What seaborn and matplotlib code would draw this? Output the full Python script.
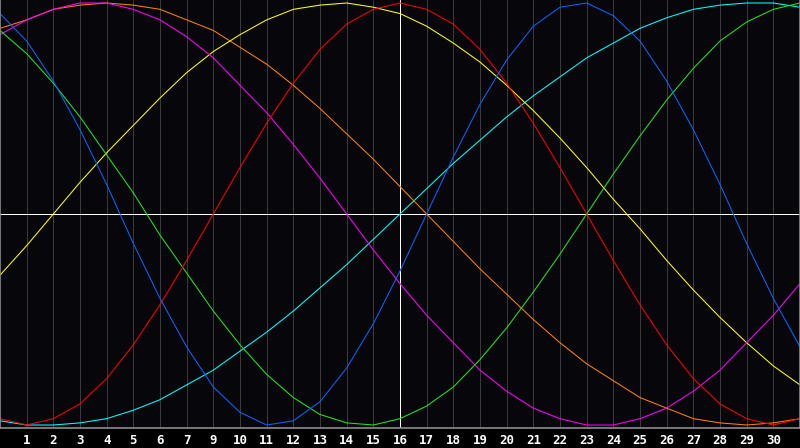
import numpy as np
import pandas as pd
import matplotlib
matplotlib.use("Agg")
import matplotlib.pyplot as plt
import seaborn as sns

# days along the x axis (grid cell boundaries)
days = list(range(31))

# tick labels (day 8 is missing in the original)
tick_pos = list(range(1, 30))
tick_labels = ['1', '2', '3', '4', '5', '6', '7', '9', '10', '11', '12', '13', '14', '15',
               '16', '17', '18', '19', '20', '21', '22', '23', '24', '25', '26', '27', '28',
               '29', '30']

# curve values (-1 .. 1)
physical = [0.95, 0.82, 0.63, 0.40, 0.14, -0.14, -0.40, -0.63, -0.82, -0.94, -1.00,
            -0.98, -0.89, -0.73, -0.52, -0.27, 0.00, 0.27, 0.52, 0.73, 0.89, 0.98,
            1.00, 0.94, 0.82, 0.63, 0.40, 0.14, -0.14, -0.40, -0.63]
emotional = [-0.97, -1.00, -0.97, -0.90, -0.78, -0.62, -0.43, -0.22, 0.00, 0.22, 0.43,
             0.62, 0.78, 0.90, 0.97, 1.00, 0.97, 0.90, 0.78, 0.62, 0.43, 0.22, 0.00,
             -0.22, -0.43, -0.62, -0.78, -0.90, -0.97, -1.00, -0.97]
intellectual = [0.87, 0.76, 0.62, 0.46, 0.28, 0.10, -0.10, -0.28, -0.46, -0.62, -0.76,
                -0.87, -0.95, -0.99, -1.00, -0.97, -0.91, -0.82, -0.69, -0.54, -0.37,
                -0.19, 0.00, 0.19, 0.37, 0.54, 0.69, 0.82, 0.91, 0.97, 1.00]
intuitive = [0.85, 0.92, 0.97, 1.00, 1.00, 0.97, 0.92, 0.84, 0.74, 0.61, 0.48, 0.33,
             0.17, 0.00, -0.17, -0.33, -0.48, -0.61, -0.74, -0.84, -0.92, -0.97, -1.00,
             -1.00, -0.97, -0.92, -0.84, -0.74, -0.61, -0.48, -0.33]
aesthetic = [-0.29, -0.15, 0.00, 0.15, 0.29, 0.42, 0.55, 0.67, 0.77, 0.85, 0.92, 0.97,
             0.99, 1.00, 0.98, 0.95, 0.89, 0.81, 0.72, 0.61, 0.49, 0.36, 0.22, 0.07,
             -0.07, -0.22, -0.36, -0.49, -0.61, -0.72, -0.81]
awareness = [0.88, 0.92, 0.97, 0.99, 1.00, 0.99, 0.97, 0.92, 0.87, 0.79, 0.71, 0.61,
             0.50, 0.38, 0.26, 0.13, 0.00, -0.13, -0.26, -0.38, -0.50, -0.61, -0.71,
             -0.79, -0.87, -0.92, -0.97, -0.99, -1.00, -0.99, -0.97]
spiritual = [-0.98, -1.00, -1.00, -0.99, -0.97, -0.93, -0.88, -0.81, -0.74, -0.65, -0.56,
             -0.46, -0.35, -0.24, -0.12, 0.00, 0.12, 0.24, 0.35, 0.46, 0.56, 0.65, 0.74,
             0.81, 0.88, 0.93, 0.97, 0.99, 1.00, 1.00, 0.98]

series = {
    'spiritual': spiritual,
    'awareness': awareness,
    'aesthetic': aesthetic,
    'intuitive': intuitive,
    'intellectual': intellectual,
    'emotional': emotional,
    'physical': physical,
}
colors = {
    'physical': '#0a64ff',
    'emotional': '#ff0000',
    'intellectual': '#1ee61e',
    'intuitive': '#ff00ff',
    'aesthetic': '#ffff00',
    'awareness': '#ff8000',
    'spiritual': '#00ffff',
}

df = pd.concat([pd.DataFrame({'day': days, 'value': v, 'cycle': k})
                for k, v in series.items()], ignore_index=True)

sns.set_style("dark")
plt.rcParams['font.family'] = ['DejaVu Sans Mono', 'DejaVu Sans']

fig = plt.figure(figsize=(8, 4.48), dpi=100, facecolor='black')
ax = fig.add_axes([0, 20 / 448, 1, 428 / 448])
ax.set_facecolor('#07070b')

# grid and reference lines
for p in tick_pos:
    ax.axvline(p, color='#3a3a3a', lw=0.72, zorder=0)
ax.axhline(0, color='white', lw=0.72, zorder=1)
ax.axvline(15, color='white', lw=0.72, zorder=1)

sns.lineplot(data=df, x='day', y='value', hue='cycle', palette=colors,
             legend=False, linewidth=0.75, ax=ax, zorder=2)

ax.set_xlim(0, 30)
ax.set_ylim(-1.0142, 1.0142)
ax.set_xticks(tick_pos)
ax.set_xticklabels(tick_labels, color='white', fontsize=9, fontweight='bold')
ax.set_yticks([])
ax.tick_params(axis='x', length=0, pad=4)
ax.set_xlabel('')
ax.set_ylabel('')
ax.grid(False)
for side in ['left', 'right', 'bottom']:
    ax.spines[side].set_visible(True)
    ax.spines[side].set_color('#8c8c8c')
    ax.spines[side].set_linewidth(1.2)
ax.spines['top'].set_visible(False)

fig.savefig('out.png', dpi=100, facecolor='black')
